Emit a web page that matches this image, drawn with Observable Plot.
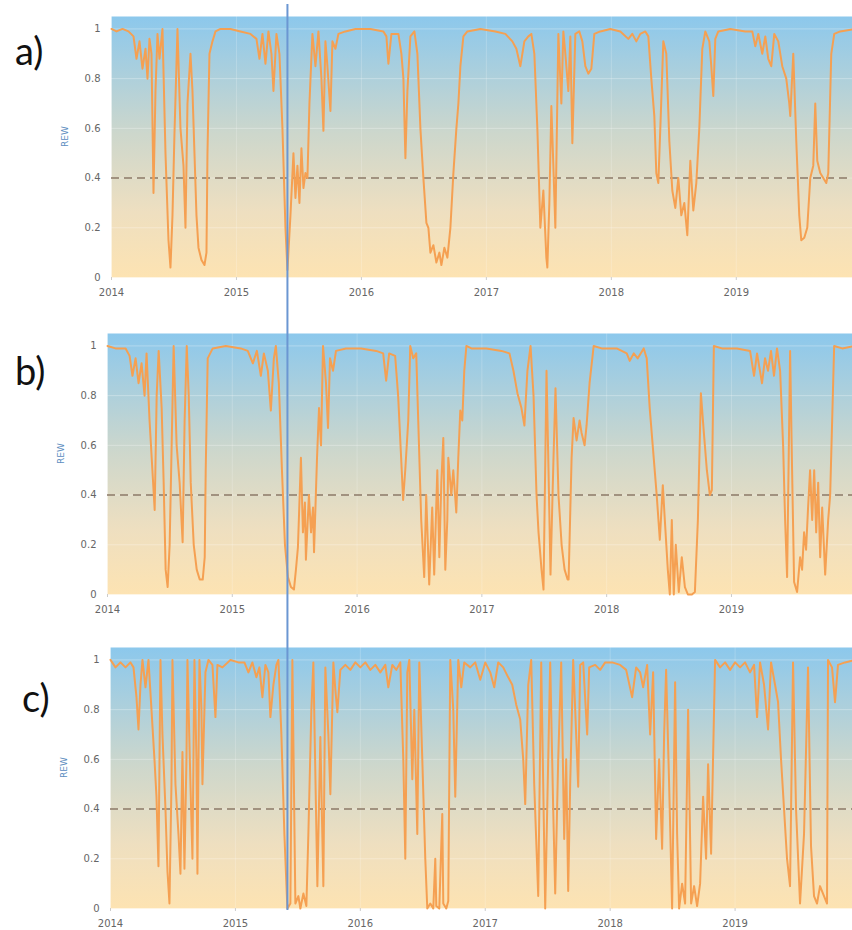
<!DOCTYPE html>
<html><head><meta charset="utf-8">
<script src="https://cdn.jsdelivr.net/npm/d3@7"></script>
<script src="https://cdn.jsdelivr.net/npm/@observablehq/plot@0.6"></script>
<style>
body{margin:0;background:#fff;}
#wrap{position:relative;width:852px;height:930px;overflow:hidden;background:#fff;}
.panel{position:absolute;left:0;}
.lbl{position:absolute;font-family:Lato,"Open Sans",sans-serif;font-size:38px;line-height:1;color:#111;}
</style></head><body><div id="wrap"></div>
<script>
// ---- data (year offset from 2014, REW) ----
const yearTicks = [2014, 2015, 2016, 2017, 2018, 2019];
const rewTicks = [0, 0.2, 0.4, 0.6, 0.8, 1];
const threshold = 0.4;
const eventYear = 2015.408;
const panelLabels = ["a)", "b)", "c)"];

const rewA = [[0,1],[.04,.99],[.088,1],[.136,.99],[.176,.97],[.2,.88],[.224,.95],[.248,.84],[.272,.92],[.288,.8],[.304,.96],[.32,.9],[.336,.34],[.352,.75],[.368,.98],[.384,.88],[.408,1],[.432,.5],[.456,.15],[.472,.04],[.488,.25],[.504,.58],[.528,1],[.552,.6],[.576,.45],[.592,.2],[.608,.7],[.632,.9],[.648,.75],[.664,.5],[.68,.25],[.696,.12],[.72,.07],[.744,.05],[.76,.1],[.768,.5],[.784,.9],[.808,.95],[.832,.99],[.872,1],[.952,1],[1.032,.99],[1.112,.98],[1.16,.96],[1.184,.88],[1.208,.98],[1.232,.86],[1.256,.99],[1.28,.9],[1.296,.75],[1.32,.98],[1.344,.9],[1.368,.6],[1.392,.2],[1.408,.03],[1.432,.25],[1.456,.5],[1.472,.32],[1.488,.45],[1.504,.3],[1.52,.52],[1.536,.36],[1.552,.42],[1.568,.4],[1.584,.7],[1.608,.98],[1.632,.85],[1.656,.99],[1.68,.8],[1.696,.59],[1.712,.95],[1.728,.85],[1.752,.67],[1.768,.95],[1.792,.92],[1.816,.98],[1.872,.99],[1.952,1],[2.072,1],[2.176,.99],[2.2,.97],[2.216,.86],[2.24,.98],[2.296,.98],[2.32,.9],[2.336,.8],[2.352,.48],[2.368,.75],[2.392,.97],[2.424,.99],[2.448,.9],[2.472,.6],[2.496,.4],[2.52,.22],[2.536,.2],[2.552,.1],[2.576,.13],[2.6,.06],[2.624,.1],[2.64,.05],[2.664,.12],[2.688,.08],[2.712,.2],[2.736,.42],[2.76,.6],[2.776,.7],[2.792,.85],[2.816,.97],[2.848,.99],[2.952,1],[3.072,.99],[3.152,.98],[3.208,.95],[3.24,.92],[3.272,.85],[3.304,.95],[3.336,.97],[3.36,.98],[3.384,.9],[3.408,.6],[3.432,.2],[3.456,.35],[3.48,.08],[3.488,.04],[3.504,.3],[3.52,.69],[3.536,.45],[3.552,.2],[3.576,.98],[3.6,.7],[3.616,.99],[3.632,.9],[3.656,.75],[3.672,.97],[3.688,.54],[3.712,.98],[3.744,.99],[3.768,.95],[3.792,.85],[3.816,.82],[3.84,.84],[3.864,.98],[3.912,.99],[3.992,1],[4.072,.99],[4.136,.96],[4.168,.98],[4.2,.95],[4.232,.98],[4.272,.99],[4.296,.97],[4.32,.8],[4.344,.65],[4.36,.42],[4.376,.38],[4.392,.6],[4.416,.95],[4.44,.9],[4.464,.55],[4.488,.35],[4.512,.28],[4.536,.4],[4.56,.25],[4.584,.3],[4.608,.17],[4.632,.47],[4.656,.27],[4.68,.38],[4.704,.6],[4.728,.92],[4.752,.99],[4.784,.95],[4.8,.85],[4.816,.73],[4.832,.96],[4.856,.99],[4.952,1],[5.072,.99],[5.128,.99],[5.152,.93],[5.176,.98],[5.208,.9],[5.232,.97],[5.256,.88],[5.28,.85],[5.304,.98],[5.336,.95],[5.368,.85],[5.4,.8],[5.424,.7],[5.432,.65],[5.456,.9],[5.48,.55],[5.504,.25],[5.52,.15],[5.544,.16],[5.568,.2],[5.592,.4],[5.616,.45],[5.632,.7],[5.648,.47],[5.672,.42],[5.696,.4],[5.72,.38],[5.736,.42],[5.76,.9],[5.784,.98],[5.832,.99],[5.96,1]];

const rewB = [[0,1],[.064,.99],[.145,.99],[.177,.96],[.2,.88],[.225,.95],[.249,.85],[.273,.93],[.297,.8],[.313,.97],[.337,.7],[.378,.34],[.394,.8],[.41,.98],[.434,.75],[.45,.45],[.466,.1],[.482,.03],[.498,.2],[.514,.6],[.53,1],[.554,.6],[.578,.45],[.602,.21],[.618,.7],[.635,1],[.651,.8],[.667,.45],[.691,.2],[.715,.1],[.739,.06],[.763,.06],[.779,.15],[.787,.5],[.803,.95],[.843,.99],[.948,1],[1.068,.99],[1.124,.98],[1.165,.93],[1.197,.98],[1.229,.88],[1.253,.97],[1.285,.9],[1.309,.74],[1.333,.95],[1.349,1],[1.373,.85],[1.398,.5],[1.422,.2],[1.446,.07],[1.47,.03],[1.494,.02],[1.51,.1],[1.526,.19],[1.55,.55],[1.566,.25],[1.582,.37],[1.59,.14],[1.614,.4],[1.631,.25],[1.647,.35],[1.655,.17],[1.679,.55],[1.695,.75],[1.711,.6],[1.727,1],[1.751,.85],[1.767,.67],[1.783,.95],[1.807,.9],[1.831,.98],[1.912,.99],[2.032,.99],[2.153,.98],[2.209,.97],[2.233,.86],[2.257,.97],[2.305,.96],[2.329,.8],[2.353,.55],[2.369,.38],[2.386,.5],[2.41,.7],[2.426,1],[2.45,.95],[2.474,.97],[2.49,.7],[2.514,.3],[2.538,.07],[2.554,.4],[2.578,.04],[2.602,.35],[2.618,.08],[2.643,.5],[2.659,.15],[2.675,.45],[2.691,.63],[2.707,.1],[2.723,.3],[2.731,.55],[2.755,.4],[2.771,.5],[2.795,.33],[2.811,.55],[2.827,.74],[2.843,.7],[2.859,.9],[2.876,1],[2.916,.99],[3.036,.99],[3.157,.98],[3.221,.97],[3.253,.9],[3.285,.81],[3.317,.75],[3.341,.68],[3.365,.9],[3.39,1],[3.414,.8],[3.438,.4],[3.454,.25],[3.478,.1],[3.494,.02],[3.518,.9],[3.534,.5],[3.55,.08],[3.574,.55],[3.59,.83],[3.614,.4],[3.639,.2],[3.663,.1],[3.687,.06],[3.695,.06],[3.719,.55],[3.735,.71],[3.759,.62],[3.783,.7],[3.799,.65],[3.823,.6],[3.839,.68],[3.863,.85],[3.896,1],[3.96,.99],[4.08,.99],[4.161,.97],[4.185,.94],[4.217,.97],[4.249,.95],[4.297,.99],[4.321,.95],[4.345,.75],[4.369,.6],[4.401,.4],[4.426,.22],[4.45,.44],[4.466,.3],[4.49,.1],[4.506,0],[4.522,.3],[4.538,0],[4.554,.2],[4.578,.01],[4.602,.15],[4.627,.03],[4.651,0],[4.683,0],[4.707,.01],[4.731,.3],[4.755,.81],[4.779,.65],[4.803,.5],[4.827,.4],[4.843,.42],[4.859,1],[4.924,.99],[5.044,.99],[5.149,.98],[5.181,.88],[5.205,.97],[5.245,.85],[5.269,.95],[5.293,.9],[5.317,.98],[5.341,.88],[5.365,.99],[5.39,.9],[5.414,.6],[5.43,.3],[5.446,.07],[5.47,.98],[5.486,.5],[5.502,.05],[5.526,.01],[5.55,.15],[5.566,.1],[5.582,.25],[5.598,.18],[5.614,.35],[5.63,.5],[5.647,.3],[5.663,.5],[5.679,.25],[5.695,.45],[5.711,.15],[5.727,.35],[5.751,.08],[5.775,.3],[5.791,.4],[5.807,.7],[5.823,1],[5.888,.99],[5.99,1]];

const rewC = [[0,1],[.04,.97],[.08,.99],[.12,.97],[.16,.99],[.184,.97],[.208,.85],[.224,.72],[.24,.9],[.256,1],[.28,.89],[.304,1],[.328,.8],[.352,.6],[.368,.45],[.384,.17],[.4,1],[.416,.7],[.44,.4],[.456,.15],[.472,.02],[.488,.5],[.496,1],[.52,.5],[.544,.3],[.56,.14],[.576,.63],[.592,.16],[.608,.6],[.616,1],[.64,.5],[.656,.2],[.672,1],[.688,.6],[.696,.14],[.712,1],[.728,.8],[.736,.5],[.76,.95],[.784,1],[.816,.98],[.84,.77],[.856,.98],[.896,.97],[.96,1],[1.024,.99],[1.072,.99],[1.104,.95],[1.136,.99],[1.168,.93],[1.192,.97],[1.216,.85],[1.24,.98],[1.264,.95],[1.28,.77],[1.304,.9],[1.328,.98],[1.344,1],[1.368,.7],[1.392,.3],[1.416,0],[1.44,.02],[1.456,1],[1.48,.02],[1.504,.05],[1.52,0],[1.544,.06],[1.568,.01],[1.584,.3],[1.608,.8],[1.624,.99],[1.656,.09],[1.68,.69],[1.704,.09],[1.72,.97],[1.744,.7],[1.76,.46],[1.784,.99],[1.8,.88],[1.816,.79],[1.84,.96],[1.88,.98],[1.92,.96],[1.96,.99],[2,.97],[2.04,.99],[2.08,.96],[2.12,.98],[2.16,.95],[2.2,.98],[2.224,.89],[2.256,.98],[2.288,.96],[2.32,.99],[2.344,.6],[2.36,.2],[2.376,.95],[2.392,1],[2.416,.52],[2.432,.8],[2.456,.3],[2.472,.99],[2.496,.6],[2.52,.2],[2.536,0],[2.56,.02],[2.584,0],[2.6,.2],[2.608,.01],[2.632,0],[2.656,.38],[2.664,.02],[2.688,0],[2.704,.03],[2.72,1],[2.744,.8],[2.76,.45],[2.784,1],[2.808,.89],[2.832,.99],[2.88,.97],[2.92,.99],[2.96,.92],[3,.99],[3.04,.95],[3.072,.89],[3.104,.99],[3.144,.97],[3.184,.93],[3.216,.9],[3.248,.82],[3.28,.76],[3.304,.6],[3.32,.42],[3.344,.9],[3.368,1],[3.392,.5],[3.424,.05],[3.448,.99],[3.464,.5],[3.48,0],[3.496,.4],[3.52,.99],[3.544,.4],[3.56,.06],[3.584,.6],[3.608,.99],[3.632,.28],[3.648,.6],[3.664,.07],[3.68,.5],[3.704,1],[3.72,.8],[3.744,.49],[3.76,.98],[3.784,.99],[3.816,.7],[3.832,.97],[3.88,.98],[3.92,.96],[3.96,.99],[4.016,.99],[4.08,.98],[4.128,.96],[4.176,.85],[4.208,.97],[4.24,.95],[4.264,.89],[4.296,.98],[4.32,.7],[4.344,.95],[4.368,.28],[4.392,.6],[4.416,.24],[4.432,.7],[4.448,.96],[4.472,.5],[4.496,0],[4.52,.91],[4.536,.3],[4.552,0],[4.576,.1],[4.6,.02],[4.624,.8],[4.648,.02],[4.672,.09],[4.696,.01],[4.72,.1],[4.744,.45],[4.768,.2],[4.784,.58],[4.808,.22],[4.84,1],[4.88,.97],[4.92,.99],[4.96,.96],[5,.99],[5.04,.97],[5.08,.99],[5.12,.95],[5.152,.98],[5.176,.77],[5.2,.99],[5.232,.9],[5.264,.72],[5.288,.99],[5.32,.9],[5.344,.83],[5.368,.6],[5.392,.4],[5.416,.2],[5.44,.09],[5.464,.99],[5.488,.4],[5.52,.02],[5.552,.3],[5.584,.97],[5.608,.25],[5.632,.05],[5.656,.02],[5.68,.09],[5.712,.05],[5.736,.02],[5.744,1],[5.776,.97],[5.8,.83],[5.824,.98],[5.88,.99],[5.96,1]];

const series = [rewA, rewB, rewC];

// ---- layout ----
const panelTops = [0, 317, 631];
const panelLeft = [111, 107, 110];
const panelEnd = [2019.93, 2019.97, 2019.94];
const labelPos = [[15, 31], [15, 351], [22, 678]];

const wrap = document.getElementById("wrap");

function addGradient(svg, id) {
  const ns = "http://www.w3.org/2000/svg";
  const defs = document.createElementNS(ns, "defs");
  const g = document.createElementNS(ns, "linearGradient");
  g.setAttribute("id", id);
  g.setAttribute("x1", "0"); g.setAttribute("y1", "0");
  g.setAttribute("x2", "0"); g.setAttribute("y2", "1");
  [["0", "#8cc8ec"], ["0.45", "#cdd7cc"], ["0.75", "#eedfc0"], ["1", "#fde3b2"]].forEach(([o, c]) => {
    const s = document.createElementNS(ns, "stop");
    s.setAttribute("offset", o); s.setAttribute("stop-color", c);
    g.appendChild(s);
  });
  defs.appendChild(g);
  svg.insertBefore(defs, svg.firstChild);
}

series.forEach((data, i) => {
  const gid = "grad" + i;
  const chart = Plot.plot({
    width: 852,
    height: 305,
    marginTop: 16,
    marginBottom: 28,
    marginLeft: panelLeft[i],
    marginRight: 0,
    style: {fontFamily: "DejaVu Sans, sans-serif", fontSize: "10px", color: "#666", background: "transparent"},
    x: {type: "linear", domain: [2014, panelEnd[i]]},
    y: {domain: [0, 1.05]},
    marks: [
      Plot.frame({fill: `url(#${gid})`, stroke: "none"}),
      Plot.gridY(rewTicks, {stroke: "#fff", strokeOpacity: 0.3}),
      Plot.gridX(yearTicks, {stroke: "#fff", strokeOpacity: 0.2}),
      Plot.axisX({ticks: yearTicks, tickFormat: d => String(d), tickSize: 3, tickPadding: 8, stroke: "#ccc", label: null}),
      Plot.axisY({ticks: rewTicks, tickFormat: d => String(d), tickSize: 0, tickPadding: 11, label: null}),
      Plot.text(["REW"], {frameAnchor: "left", dx: -46, rotate: -90, fill: "#5b8cc0", fontSize: 9}),
      Plot.ruleY([threshold], {stroke: "#8a7866", strokeWidth: 1.5, strokeDasharray: "8,5"}),
      Plot.line(data, {x: d => 2014 + d[0], y: d => d[1], stroke: "#f5a052", strokeWidth: 2, strokeLinejoin: "round"})
    ]
  });
  addGradient(chart, gid);
  chart.classList.add("panel");
  chart.style.top = panelTops[i] + "px";
  wrap.appendChild(chart);

  const lbl = document.createElement("div");
  lbl.className = "lbl";
  lbl.textContent = panelLabels[i];
  lbl.style.left = labelPos[i][0] + "px";
  lbl.style.top = labelPos[i][1] + "px";
  wrap.appendChild(lbl);
});

// vertical event line spanning all panels (uses panel a's x scale)
const overlay = Plot.plot({
  width: 852,
  height: 910,
  marginTop: 4,
  marginBottom: 0,
  marginLeft: panelLeft[0],
  marginRight: 0,
  axis: null,
  style: {background: "transparent"},
  x: {type: "linear", domain: [2014, panelEnd[0]]},
  marks: [Plot.ruleX([eventYear], {stroke: "#6b97d2", strokeWidth: 2})]
});
overlay.classList.add("panel");
overlay.style.top = "0px";
overlay.style.pointerEvents = "none";
wrap.appendChild(overlay);
</script></body></html>
